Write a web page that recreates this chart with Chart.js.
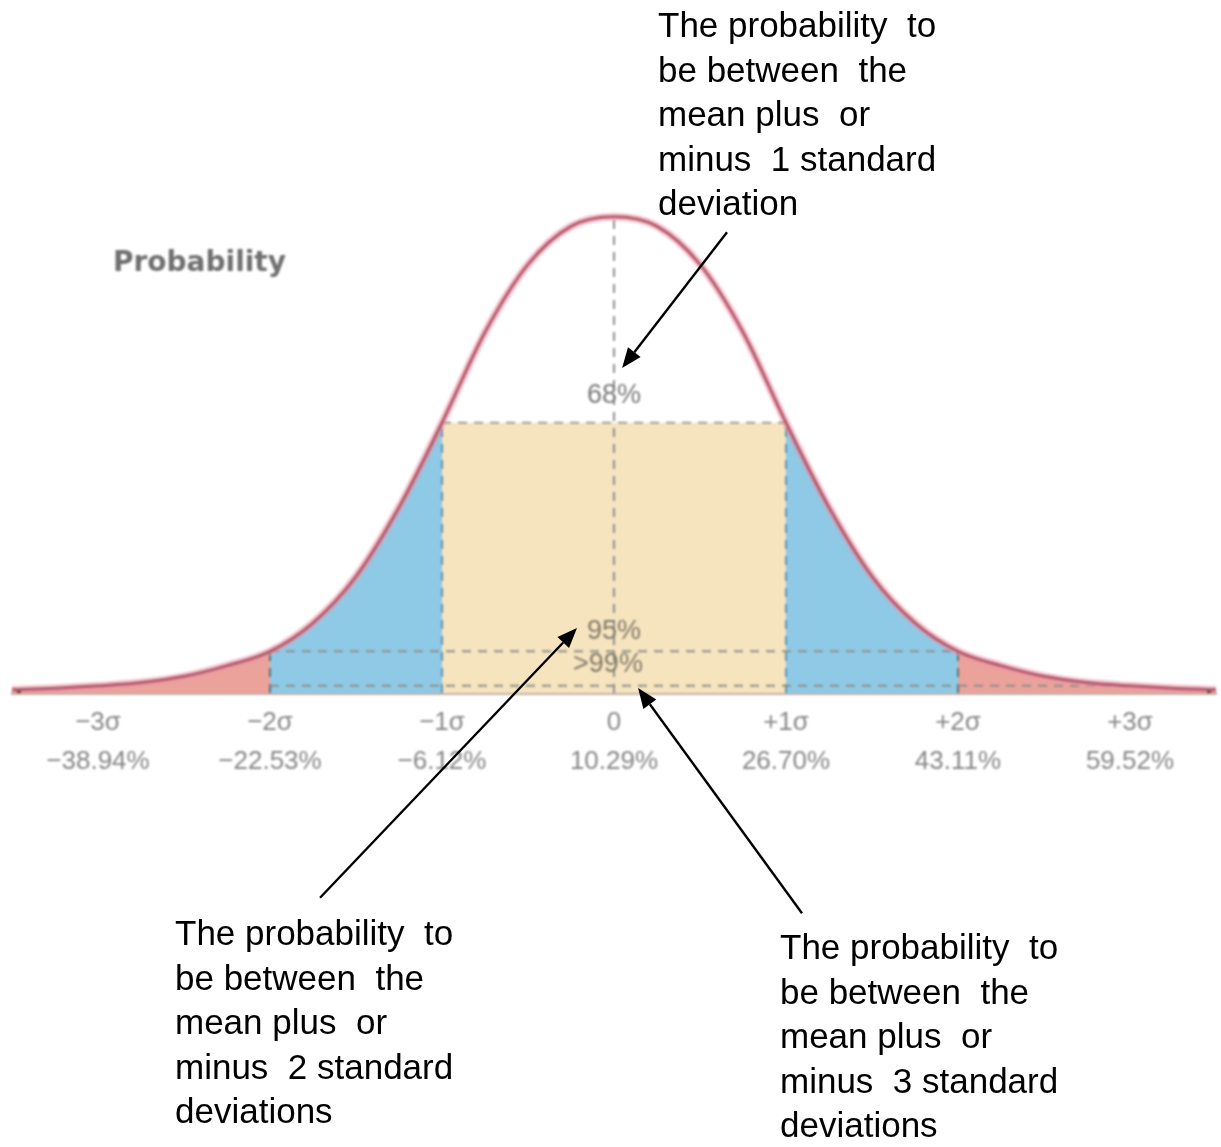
<!DOCTYPE html>
<html>
<head>
<meta charset="utf-8">
<title>Normal distribution of returns</title>
<script src="https://cdn.jsdelivr.net/npm/chart.js@4.4.1/dist/chart.umd.min.js"></script>
<style>
  html, body { margin: 0; padding: 0; background: #fff; }
  #wrap { position: relative; width: 1221px; height: 1147px; }
  #wrap canvas { position: absolute; left: 0; top: 0; }
  #bell { filter: blur(0.9px); }
</style>
</head>
<body>
<div id="wrap">
  <canvas id="bell" width="1221" height="1147"></canvas>
  <canvas id="notes" width="1221" height="1147"></canvas>
</div>
<script>
// bell curve, sampled every quarter sigma
const sigmaSteps = [-3.5, -3.25, -3, -2.75, -2.5, -2.25, -2, -1.75, -1.5, -1.25, -1, -0.75, -0.5, -0.25,
  0, 0.25, 0.5, 0.75, 1, 1.25, 1.5, 1.75, 2, 2.25, 2.5, 2.75, 3, 3.25, 3.5];
const density = [0.0028, 0.004, 0.006, 0.0088, 0.014, 0.023, 0.035, 0.059, 0.098, 0.156, 0.227, 0.303, 0.36, 0.392,
  0.4, 0.392, 0.36, 0.303, 0.227, 0.156, 0.098, 0.059, 0.035, 0.023, 0.014, 0.0088, 0.006, 0.004, 0.0028];

const tickValues = [-3, -2, -1, 0, 1, 2, 3];
const sigmaLabels = ["\u22123\u03c3", "\u22122\u03c3", "\u22121\u03c3", "0", "+1\u03c3", "+2\u03c3", "+3\u03c3"];
const returnLabels = ["\u221238.94%", "\u221222.53%", "\u22126.12%", "10.29%", "26.70%", "43.11%", "59.52%"];

const bandLabels = ["68%", "95%", ">99%"];
const bandLabelX = [0, 0, -0.035];
const bandLabelY = [0.25, 0.052, 0.0235];

const callouts = [
  { x: 658, y: 37, lines: ["The probability  to", "be between  the", "mean plus  or", "minus  1 standard", "deviation"] },
  { x: 175, y: 945, lines: ["The probability  to", "be between  the", "mean plus  or", "minus  2 standard", "deviations"] },
  { x: 780, y: 959, lines: ["The probability  to", "be between  the", "mean plus  or", "minus  3 standard", "deviations"] }
];
// arrows in chart units: [x, y] tail -> head
const arrows = [
  { from: [0.657, 0.387], to: [0.047, 0.273] },
  { from: [-1.709, -0.172], to: [-0.215, 0.0546] },
  { from: [1.093, -0.185], to: [0.14, 0.0042] }
];

const curvePts = sigmaSteps.map((x, i) => ({ x, y: density[i] }));
const at = s => density[sigmaSteps.indexOf(s)];
const between = (a, b) => curvePts.filter(p => p.x >= a && p.x <= b);

const area = (data, color) => ({
  data, fill: 'origin', backgroundColor: color, borderColor: 'transparent', borderWidth: 1,
  pointRadius: 0, cubicInterpolationMode: 'monotone', order: 6
});
const dash = (data, color) => ({
  data, fill: false, borderColor: color, borderWidth: 2, borderDash: [9, 7],
  pointRadius: 0, tension: 0, order: 3
});

// gray labels inside the plot
const bandText = {
  id: 'bandText',
  afterDatasetsDraw(chart) {
    const { ctx, scales: { x, y } } = chart;
    ctx.save();
    ctx.textAlign = 'center';
    ctx.textBaseline = 'middle';
    ctx.font = '27px "Liberation Sans", Arial, sans-serif';
    bandLabels.forEach((t, i) => {
      ctx.fillStyle = i === 0 ? '#7a7a7a' : '#827b69';
      ctx.fillText(t, x.getPixelForValue(bandLabelX[i]), y.getPixelForValue(bandLabelY[i]));
    });
    ctx.font = 'bold 28px "DejaVu Sans", sans-serif';
    ctx.fillStyle = '#707070';
    ctx.fillText('Probability', x.getPixelForValue(-2.41), y.getPixelForValue(0.361));
    ctx.restore();
  }
};

// callout text and arrows go on the sharp top canvas
const notes = {
  id: 'notes',
  afterDraw(chart) {
    const { scales: { x, y } } = chart;
    const ctx = document.getElementById('notes').getContext('2d');
    ctx.clearRect(0, 0, 1221, 1147);
    ctx.fillStyle = '#000';
    ctx.font = '35px "Liberation Sans", Arial, sans-serif';
    ctx.textAlign = 'left';
    ctx.textBaseline = 'alphabetic';
    callouts.forEach(c => c.lines.forEach((l, i) => ctx.fillText(l, c.x, c.y + i * 44.6)));

    ctx.strokeStyle = '#000';
    ctx.lineWidth = 2.4;
    arrows.forEach(a => {
      const x0 = x.getPixelForValue(a.from[0]), y0 = y.getPixelForValue(a.from[1]);
      const x1 = x.getPixelForValue(a.to[0]), y1 = y.getPixelForValue(a.to[1]);
      const ang = Math.atan2(y1 - y0, x1 - x0);
      const len = 20, half = 8;
      const bx = x1 - len * Math.cos(ang), by = y1 - len * Math.sin(ang);
      ctx.beginPath();
      ctx.moveTo(x0, y0);
      ctx.lineTo(bx, by);
      ctx.stroke();
      ctx.beginPath();
      ctx.moveTo(x1, y1);
      ctx.lineTo(bx + half * Math.sin(ang), by - half * Math.cos(ang));
      ctx.lineTo(bx - half * Math.sin(ang), by + half * Math.cos(ang));
      ctx.closePath();
      ctx.fill();
    });
  }
};

new Chart(document.getElementById('bell'), {
  type: 'line',
  data: {
    datasets: [
      // axis end marks
      { data: [{ x: -3.46, y: 0 }, { x: 3.46, y: 0 }], showLine: false, pointStyle: 'rect',
        pointRadius: 3, pointBackgroundColor: '#5b4b4b', pointBorderWidth: 0, order: 0 },
      // the curve and its soft halo
      { data: curvePts, fill: false, borderColor: '#b45a6b', borderWidth: 3, pointRadius: 0,
        cubicInterpolationMode: 'monotone', order: 1 },
      { data: curvePts, fill: false, borderColor: 'rgba(238,150,172,0.55)', borderWidth: 8, pointRadius: 0,
        cubicInterpolationMode: 'monotone', order: 2 },
      // guide lines
      dash([{ x: 0, y: 0 }, { x: 0, y: at(0) }], '#8c8c8c'),
      dash([{ x: -1, y: at(-1) }, { x: 1, y: at(1) }], '#a09a8c'),
      dash([{ x: -2, y: at(-2) }, { x: 2, y: at(2) }], '#8f8f88'),
      dash([{ x: -2, y: at(3) }, { x: 3, y: at(3) }], '#8f8f88'),
      dash([{ x: -1, y: 0 }, { x: -1, y: at(-1) }], '#5f93b5'),
      dash([{ x: 1, y: 0 }, { x: 1, y: at(1) }], '#5f93b5'),
      dash([{ x: -2, y: 0 }, { x: -2, y: at(-2) }], '#5d6f78'),
      dash([{ x: 2, y: 0 }, { x: 2, y: at(2) }], '#5d6f78'),
      // shaded bands
      area(between(-3.5, -2), '#eaa29b'),
      area(between(2, 3.5), '#eaa29b'),
      area(between(-2, -1), '#8ecae6'),
      area(between(1, 2), '#8ecae6'),
      area([{ x: -1, y: at(-1) }, { x: 1, y: at(1) }], '#f6e4bf')
    ]
  },
  options: {
    responsive: false,
    animation: false,
    events: [],
    layout: { padding: { left: 12, right: 5, top: 193, bottom: 0 } },
    plugins: { legend: { display: false }, tooltip: { enabled: false } },
    scales: {
      x: {
        type: 'linear', min: -3.5, max: 3.5, z: 1,
        afterBuildTicks: s => { s.ticks = tickValues.map(v => ({ value: v })); },
        afterFit: s => { s.height = 454; },
        grid: { display: false, drawTicks: false },
        border: { display: true, color: '#c4b0aa', width: 3 },
        ticks: {
          autoSkip: false, maxRotation: 0, padding: 10, color: '#878787',
          font: { family: '"Liberation Sans", Arial, sans-serif', size: 26, lineHeight: 1.5 },
          callback: v => {
            const i = tickValues.indexOf(v);
            return i < 0 ? '' : [sigmaLabels[i], returnLabels[i]];
          }
        }
      },
      y: { display: false, min: 0, max: 0.42 }
    }
  },
  plugins: [bandText, notes]
});
</script>
</body>
</html>
